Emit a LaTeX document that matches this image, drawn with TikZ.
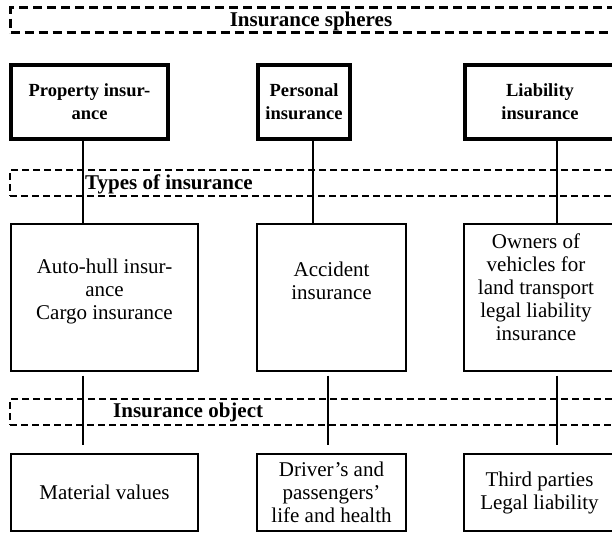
\documentclass[tikz,border=0pt]{standalone}
\usepackage{fontspec}
\setmainfont{Liberation Serif}
\begin{document}
\begin{tikzpicture}[x=1pt,y=-1pt,
  sphereband/.style={draw, line width=2.6pt, dash pattern=on 9pt off 5pt, inner sep=0pt, outer sep=0pt},
  band/.style={draw, line width=1.7pt, dash pattern=on 7pt off 4pt, inner sep=0pt, outer sep=0pt},
  bandlabel/.style={font=\fontsize{21}{23}\selectfont\bfseries, inner sep=0pt},
  headbox/.style={draw, line width=3.6pt, inner sep=0pt, outer sep=0pt, align=center,
    minimum height=74pt, font=\fontsize{18.5}{23}\selectfont\bfseries},
  plainbox/.style={draw, line width=1.8pt, inner sep=0pt, outer sep=0pt, align=center,
    font=\fontsize{21}{23}\selectfont},
  link/.style={line width=1.5pt}
]
\useasboundingbox (0,0) rectangle (612,533);
\clip (0,0) rectangle (612,533);

% bands
\node[sphereband, minimum width=640pt, minimum height=25pt, anchor=north west] (spheres) at (10.5,7.5) {};
\node[bandlabel, anchor=center] (spheresT) at (311,21) {Insurance spheres};
\node[band, minimum width=640pt, minimum height=26pt, anchor=north west] (types) at (10,170) {};
\node[bandlabel, anchor=west] (typesT) at (85,184) {Types of insurance};
\node[band, minimum width=640pt, minimum height=26pt, anchor=north west] (object) at (10,399) {};
\node[bandlabel, anchor=west] (objectT) at (113,412.5) {Insurance object};

% top boxes
\node[headbox, minimum width=157pt] (top1) at (89.5,102) {Property insur-\\ance};
\node[headbox, minimum width=92pt] (top2) at (304,102) {Personal\\insurance};
\node[headbox, minimum width=150pt] (top3) at (540,102) {Liability\\insurance};

% middle boxes
\node[plainbox, minimum width=187pt, minimum height=147pt] (mid1) at (104.5,297.5) {};
\node[plainbox, minimum width=149pt, minimum height=147pt] (mid2) at (331.5,297.5) {};
\node[plainbox, minimum width=151pt, minimum height=147pt] (mid3) at (539.5,297.5) {};
\node[plainbox, draw=none] (mid1T) at (104.5,291) {Auto-hull insur-\\ance\\Cargo insurance};
\node[plainbox, draw=none] (mid2T) at (331.5,281) {Accident\\insurance};
\node[plainbox, draw=none] (mid3T) at (536,287) {Owners of\\vehicles for\\land transport\\legal liability\\insurance};

% bottom boxes
\node[plainbox, minimum width=187pt, minimum height=77pt] (bot1) at (104.5,492.5) {Material values};
\node[plainbox, minimum width=149pt, minimum height=77pt] (bot2) at (331.5,492.5) {Driver’s and\\passengers’\\life and health};
\node[plainbox, minimum width=151pt, minimum height=77pt] (bot3) at (539.5,492.5) {Third parties\\Legal liability};

% connector columns
\coordinate (x1) at (83,0);
\coordinate (x2) at (313,0);
\coordinate (x3) at (557,0);
\coordinate (y2) at (328,0);

\draw[link] (top1.south -| x1) -- (mid1.north -| x1);
\draw[link] (top2.south -| x2) -- (mid2.north -| x2);
\draw[link] (top3.south -| x3) -- (mid3.north -| x3);

\draw[link, shorten <=4.5pt, shorten >=9pt] (mid1.south -| x1) -- (bot1.north -| x1);
\draw[link, shorten <=4.5pt, shorten >=9pt] (mid2.south -| y2) -- (bot2.north -| y2);
\draw[link, shorten <=4.5pt, shorten >=9pt] (mid3.south -| x3) -- (bot3.north -| x3);
\end{tikzpicture}
\end{document}
